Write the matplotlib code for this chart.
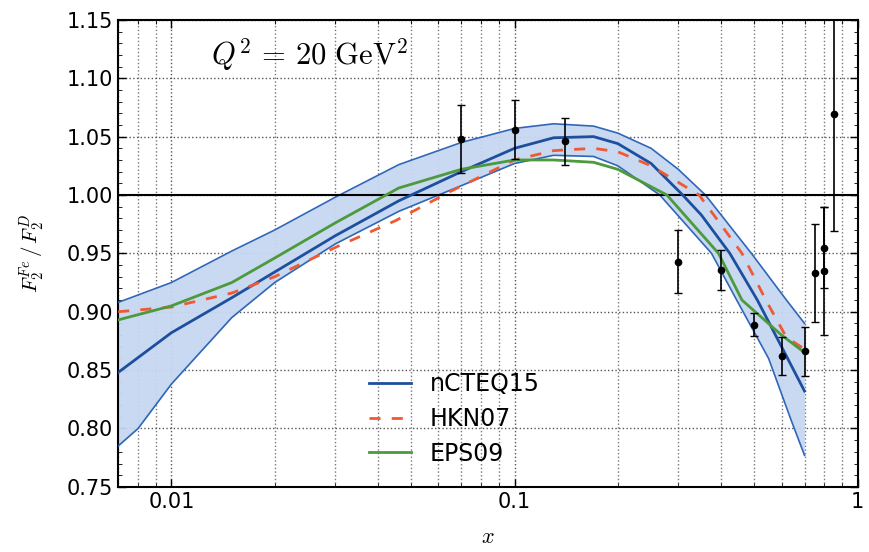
import matplotlib
matplotlib.use('Agg')
import matplotlib.pyplot as plt
import numpy as np
from matplotlib.ticker import FixedLocator, FuncFormatter, MultipleLocator

plt.rc('mathtext', fontset='cm')

# nCTEQ15 central value and error band
x_nc = [0.007, 0.01, 0.015, 0.02, 0.03, 0.046, 0.07, 0.1, 0.13, 0.17, 0.2, 0.25, 0.309, 0.35, 0.424, 0.51, 0.6, 0.7]
y_nc = [0.848, 0.882, 0.912, 0.934, 0.965, 0.995, 1.020, 1.040, 1.049, 1.050, 1.044, 1.027, 1.000, 0.983, 0.950, 0.910, 0.870, 0.832]

x_up = [0.007, 0.01, 0.015, 0.02, 0.03, 0.046, 0.07, 0.1, 0.13, 0.17, 0.2, 0.25, 0.3, 0.36, 0.49, 0.62, 0.7]
y_up = [0.908, 0.925, 0.952, 0.970, 0.998, 1.026, 1.045, 1.057, 1.061, 1.059, 1.053, 1.040, 1.022, 1.000, 0.950, 0.910, 0.890]

x_lo = [0.007, 0.008, 0.01, 0.015, 0.02, 0.03, 0.046, 0.07, 0.1, 0.13, 0.17, 0.2, 0.265, 0.375, 0.444, 0.55, 0.64, 0.7]
y_lo = [0.785, 0.800, 0.838, 0.895, 0.925, 0.958, 0.986, 1.008, 1.027, 1.034, 1.033, 1.025, 1.000, 0.950, 0.910, 0.860, 0.807, 0.777]

# EPS09
x_eps = [0.007, 0.01, 0.015, 0.02, 0.03, 0.046, 0.07, 0.1, 0.13, 0.17, 0.2, 0.278, 0.393, 0.46, 0.6, 0.7]
y_eps = [0.893, 0.905, 0.925, 0.946, 0.976, 1.006, 1.022, 1.030, 1.030, 1.028, 1.022, 1.000, 0.950, 0.910, 0.880, 0.865]

# HKN07
x_hkn = [0.007, 0.01, 0.015, 0.02, 0.03, 0.045, 0.065, 0.088, 0.1, 0.13, 0.17, 0.2, 0.25, 0.345, 0.46, 0.54, 0.62, 0.7]
y_hkn = [0.900, 0.904, 0.916, 0.930, 0.955, 0.978, 1.003, 1.022, 1.030, 1.038, 1.040, 1.037, 1.025, 1.000, 0.950, 0.910, 0.878, 0.868]

# data points
x_dat = [0.07, 0.1, 0.14, 0.30, 0.40, 0.50, 0.60, 0.70, 0.75, 0.80, 0.80, 0.855]
y_dat = [1.048, 1.056, 1.046, 0.943, 0.936, 0.889, 0.862, 0.866, 0.933, 0.935, 0.955, 1.069]
e_dat = [0.029, 0.025, 0.020, 0.027, 0.017, 0.010, 0.016, 0.021, 0.042, 0.055, 0.035, 0.100]

fig = plt.figure(figsize=(8.69, 5.52), dpi=100)
ax = fig.add_axes([0.136, 0.118, 0.851, 0.846])

# band: put both edges on a common grid
xg = np.union1d(x_up, x_lo)
ug = np.interp(np.log(xg), np.log(x_up), y_up)
lg = np.interp(np.log(xg), np.log(x_lo), y_lo)
ax.fill_between(xg, lg, ug, color='#c6d7f1', alpha=0.95, lw=0, zorder=2)
ax.plot(x_up, y_up, color='#2f67b8', lw=1.2, zorder=3)
ax.plot(x_lo, y_lo, color='#2f67b8', lw=1.2, zorder=3)

ax.plot(x_nc, y_nc, color='#1d4f9e', lw=2, label='nCTEQ15', zorder=4)
ax.plot(x_hkn, y_hkn, color='#ef5a35', lw=2, ls=(0, (4, 4)), label='HKN07', zorder=4)
ax.plot(x_eps, y_eps, color='#4c9a3b', lw=2, label='EPS09', zorder=4)

ax.errorbar(x_dat, y_dat, yerr=e_dat, fmt='o', color='black', ms=4.5,
            capsize=3, elinewidth=1.2, zorder=5)

ax.axhline(1.0, color='black', lw=1.5, zorder=3)

ax.set_xscale('log')
ax.set_xlim(0.007, 1)
ax.set_ylim(0.75, 1.15)
ax.xaxis.set_major_locator(FixedLocator([0.01, 0.1, 1]))
ax.xaxis.set_major_formatter(FuncFormatter(lambda v, p: '%g' % v))
ax.yaxis.set_major_locator(MultipleLocator(0.05))
ax.yaxis.set_minor_locator(MultipleLocator(0.01))
ax.yaxis.set_major_formatter(FuncFormatter(lambda v, p: '%.2f' % v))
ax.tick_params(which='both', direction='in', top=True, right=True, labelsize=15)
ax.tick_params(which='major', length=6, width=1)
ax.tick_params(which='minor', length=3)

ax.grid(True, which='major', ls=':', color='#555555', lw=1)
ax.grid(True, which='minor', axis='x', ls=':', color='#777777', lw=1)
for s in ax.spines.values():
    s.set_linewidth(1.5)

ax.text(0.125, 0.905, r'$Q^2\,=\,20\ \mathrm{GeV}^2$', transform=ax.transAxes,
        fontsize=22)
ax.set_xlabel(r'$x$', fontsize=16, labelpad=11)
ax.set_ylabel(r'$F_2^{Fe}\,/\,F_2^{D}$', fontsize=15, labelpad=14)

ax.legend(loc='lower left', bbox_to_anchor=(0.31, 0.0), frameon=False,
          fontsize=17, handlelength=1.8, labelspacing=0.45)

fig.savefig('out.png', dpi=100)
